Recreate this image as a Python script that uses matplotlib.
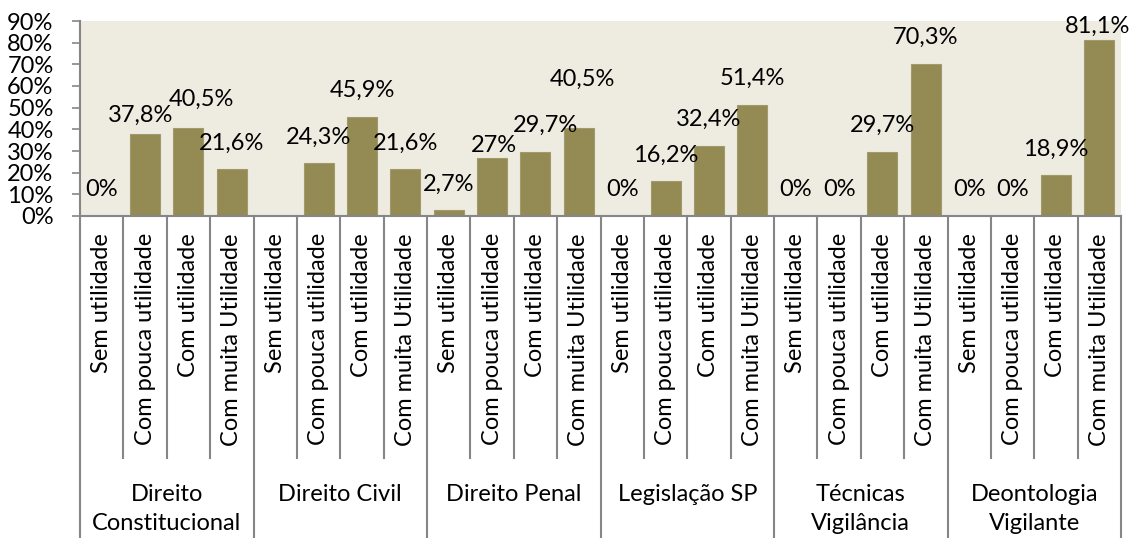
import matplotlib
matplotlib.use("Agg")
import matplotlib.pyplot as plt
import numpy as np

plt.rcParams['font.family'] = ['Lato', 'DejaVu Sans']

# Data (percent)
groups = ['Direito\nConstitucional', 'Direito Civil', 'Direito Penal',
          'Legislação SP', 'Técnicas\nVigilância', 'Deontologia\nVigilante']
levels = ['Sem utilidade', 'Com pouca utilidade', 'Com utilidade', 'Com muita Utilidade']

direito_constitucional = [0, 37.8, 40.5, 21.6]
direito_civil = [None, 24.3, 45.9, 21.6]   # no label shown for the first bar
direito_penal = [2.7, 27, 29.7, 40.5]
legislacao_sp = [0, 16.2, 32.4, 51.4]
tecnicas_vigilancia = [0, 0, 29.7, 70.3]
deontologia_vigilante = [0, 0, 18.9, 81.1]

series = [direito_constitucional, direito_civil, direito_penal,
          legislacao_sp, tecnicas_vigilancia, deontologia_vigilante]

# label nudges in pixels (dx, dy), Excel had some labels moved by hand
nudges = {1: (-4, -7), 2: (13, 3), 9: (2, -14), 10: (10, 0),
          11: (4, 23), 23: (-2, -12)}

bar_color = '#948A54'
bg_color = '#EEECE1'
axis_color = '#868686'
fs = 17

fig = plt.figure(figsize=(11.37, 5.38), dpi=100)
W, H = 1137, 538
x0, x1, y_axis, y_top = 80, 1121, 216, 21
ax = fig.add_axes([x0 / W, 1 - y_axis / H, (x1 - x0) / W, (y_axis - y_top) / H])
ax.set_facecolor(bg_color)

n_lvl = len(levels)
values = []
for s in series:
    values.extend(s)
heights = [0 if v is None else v / 100 for v in values]
x = np.arange(len(values))

ax.bar(x, heights, width=0.69, color=bar_color, edgecolor='#A29A6A', linewidth=0.8, zorder=2)

def fmt(v):
    if float(v).is_integer():
        return f"{int(v)}%"
    return f"{v:.1f}".replace('.', ',') + '%'

for i, v in enumerate(values):
    if v is None:
        continue
    dx, dy = nudges.get(i, (0, 0))
    ax.annotate(fmt(v), (x[i], v / 100), xytext=(dx, 26 + dy),
                textcoords='offset pixels', ha='center', va='center',
                fontsize=fs, color='black', zorder=3)

ax.set_xlim(-0.5, len(values) - 0.5)
ax.set_ylim(0, 0.9)
ax.set_yticks(np.arange(0, 0.91, 0.1))
ax.set_yticklabels([f"{int(round(t * 100))}%" for t in np.arange(0, 0.91, 0.1)], fontsize=fs)
ax.tick_params(axis='y', length=6, width=1.2, color=axis_color, pad=13)
ax.set_xticks([])
for side in ['top', 'right']:
    ax.spines[side].set_visible(False)
for side in ['left', 'bottom']:
    ax.spines[side].set_color(axis_color)
    ax.spines[side].set_linewidth(1.5)

# multi-level category axis drawn below the plot
ph = y_axis - y_top
def frac(py):
    return -(py - y_axis) / ph

tr = ax.get_xaxis_transform()
for i in range(len(values) + 1):
    bottom = 538 if i % n_lvl == 0 else 458
    ax.plot([i - 0.5, i - 0.5], [0, frac(bottom)], color=axis_color, lw=1.5,
            transform=tr, clip_on=False)

for i in range(len(values)):
    ax.text(x[i], frac(233), levels[i % n_lvl], rotation=90, ha='center', va='top',
            fontsize=fs, transform=tr)

for g, name in enumerate(groups):
    cx = g * n_lvl + (n_lvl - 1) / 2
    ax.text(cx, frac(484), name, ha='center', va='top', fontsize=fs,
            linespacing=1.45, transform=tr)

fig.savefig('out.png', dpi=100, facecolor='white')
